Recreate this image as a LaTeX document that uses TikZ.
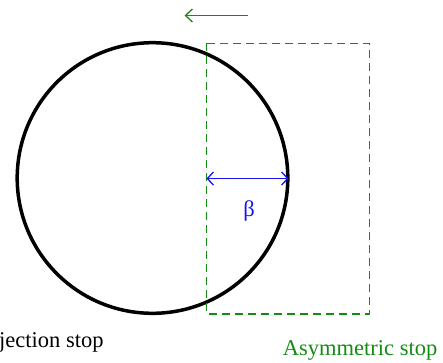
\documentclass[tikz,border=0pt]{standalone}
\usepackage{fontspec}
\setmainfont{Liberation Serif}
\usetikzlibrary{arrows.meta}
\definecolor{dgreen}{RGB}{20,140,20}
\definecolor{dblue}{RGB}{20,20,240}
\tikzset{
  lbl/.style={inner sep=0pt, font=\fontsize{22.5}{24}\selectfont},
  stopbox/.style={draw=dgreen, line width=1.3pt, dash pattern=on 8pt off 5pt},
  lens/.style={draw=black, line width=3.5pt},
  dimarrow/.style={draw=dblue, line width=1.3pt, {Straight Barb[length=6pt,width=13pt]}-{Straight Barb[length=6pt,width=13pt]}},
  movearrow/.style={draw=dgreen, line width=1.3pt, -{Straight Barb[length=7pt,width=13pt]}}
}
\begin{document}
\begin{tikzpicture}[x=1pt,y=-1pt]
\useasboundingbox (0,0) rectangle (443,362);
\node[circle, lens, minimum size=270.6pt, inner sep=0pt] (circ) at (152.5,178) {};
\draw[stopbox] (206.7,43.3) rectangle (369.3,314);
\coordinate (rl) at (206.5,178.5);
\coordinate (rr) at (288.5,178.5);
\draw[dimarrow] (rl) -- (rr);
\node[lbl, text=dblue, anchor=base] (beta) at (249,216) {β};
\coordinate (ma) at (247.5,15.5);
\coordinate (mb) at (184.5,15.5);
\draw[movearrow] (ma) -- (mb);
\node[lbl, anchor=base west] (proj) at (-1,347.5) {jection stop};
\node[lbl, text=dgreen, anchor=base east] (asym) at (437.5,355.5) {Asymmetric stop};
\end{tikzpicture}
\end{document}
